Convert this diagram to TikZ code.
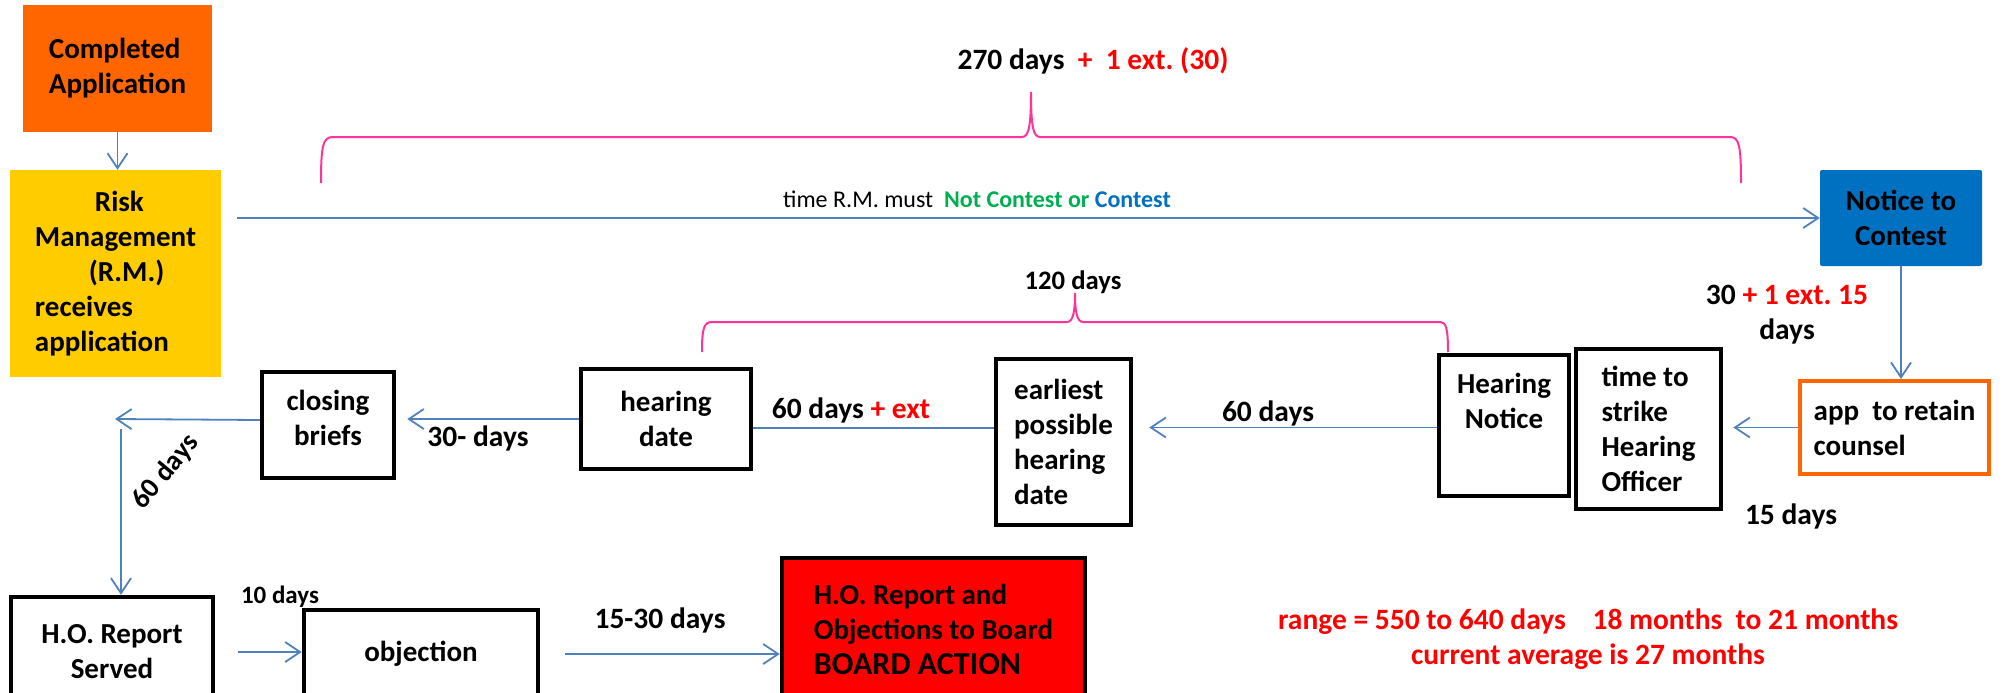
\documentclass[tikz,border=0pt]{standalone}
\usepackage{fontspec}
\setmainfont{Carlito}
\usetikzlibrary{arrows.meta}

\definecolor{apporange}{RGB}{255,102,0}
\definecolor{rmyellow}{RGB}{255,204,0}
\definecolor{noticeblue}{RGB}{0,112,192}
\definecolor{linkblue}{RGB}{79,129,189}
\definecolor{bracepink}{RGB}{255,51,153}
\definecolor{okgreen}{RGB}{0,176,80}

\newcommand{\boxfnt}{\fontsize{29}{35}\selectfont\bfseries}
\newcommand{\lblfnt}{\fontsize{29.5}{35}\selectfont\bfseries}
\newcommand{\smallfnt}{\fontsize{24}{29}\selectfont}

\tikzset{
  blkbox/.style={draw=black, line width=4.5pt, fill=white, inner sep=0pt, font=\boxfnt, align=center},
  fillbox/.style={inner sep=0pt, font=\boxfnt},
  conn/.style={draw=linkblue, line width=1.8pt},
  arr/.style={conn, -{Straight Barb[length=15pt, width=20pt]}},
  brace/.style={draw=bracepink, line width=2pt},
  days/.style={font=\lblfnt, inner sep=0pt},
}

\begin{document}
\frenchspacing
\begin{tikzpicture}[x=1pt, y=-1pt]
\useasboundingbox (0,0) rectangle (2003,693);

% boxes
\node[fillbox, fill=apporange, minimum width=189pt, minimum height=127pt, align=left] (compapp) at (117.5,68.5) {Completed\\Application};
\node[fillbox, fill=rmyellow, minimum width=211pt, minimum height=207pt, align=left] (riskmgmt) at (115.5,273.5) {\hspace*{60pt}Risk\\Management\\\hspace*{54pt}(R.M.)\\receives\\application};
\node[fillbox, fill=noticeblue, rounded corners=2pt, minimum width=162pt, minimum height=96pt, align=center] (notice) at (1901,218) {Notice to\\Contest};
\node[blkbox, draw=apporange, line width=4pt, minimum width=189pt, minimum height=93pt, align=left] (retain) at (1894.5,427.5) {app\ \ to retain\\counsel};
\node[blkbox, minimum width=145pt, minimum height=160pt, align=left] (strike) at (1648.5,429) {time to\\strike\\Hearing\\Officer};
\node[blkbox, minimum width=130pt, minimum height=141pt,
  label={[font=\boxfnt, align=center, anchor=north, yshift=-20pt, inner sep=0pt]north:{Hearing\\Notice}}] (hnotice) at (1504,425.5) {};
\node[blkbox, minimum width=135pt, minimum height=166pt, align=left] (earliest) at (1063.5,442) {earliest\\possible\\hearing\\date};
\node[blkbox, minimum width=170pt, minimum height=100pt] (hearing) at (666,419) {hearing\\date};
\node[blkbox, minimum width=132pt, minimum height=106pt, text depth=14pt] (closing) at (328,425) {closing\\briefs};
\node[blkbox, minimum width=202pt, minimum height=110pt] (hoserved) at (112,652) {H.O. Report\\Served};
\node[blkbox, minimum width=234pt, minimum height=88pt] (objection) at (421,654) {objection};
\node[blkbox, fill=red, minimum width=303pt, minimum height=142pt, align=left] (board) at (933.5,629) {H.O. Report and\\Objections to Board\\{\fontsize{32}{38}\selectfont BOARD ACTION}};

% brackets
\draw[brace] (321,183) .. controls (321,145) and (323,137) .. (333,137) -- (1022,137)
  .. controls (1029,137) and (1031,125) .. (1031,92) .. controls (1031,125) and (1033,137) .. (1040,137)
  -- (1730,137) .. controls (1739,137) and (1741,145) .. (1741,183);
\draw[brace] (702,352) .. controls (702,328) and (704,322) .. (712,322) -- (1067,322)
  .. controls (1073,322) and (1075,312) .. (1075,293) .. controls (1075,312) and (1077,322) .. (1083,322)
  -- (1440,322) .. controls (1446,322) and (1448,328) .. (1448,352);

% connectors
\coordinate (turn) at (115,419);
\coordinate (drop) at (121,429);
\draw[arr] (compapp.south) -- (compapp.south |- riskmgmt.north);
\draw[arr] ([xshift=16pt]notice.west -| riskmgmt.east) -- (notice.west);
\draw[arr] (notice.south) -- (notice.south |- retain.north);
\draw[arr] (retain.west) -- ([xshift=10pt]retain.west -| strike.east);
\draw[arr] ([yshift=-2pt]hnotice.west) -- ([xshift=16pt,yshift=-2pt]hnotice.west -| earliest.east);
\draw[conn] ([yshift=14pt]earliest.west) -- ([yshift=14pt]earliest.west -| hearing.east);
\draw[arr] (hearing.west) -- ([xshift=11pt]hearing.west -| closing.east);
\draw[arr] ([yshift=5pt]closing.west) -- (turn);
\draw[arr] (drop) -- (drop |- hoserved.north);
\draw[arr] ([xshift=23pt]hoserved.east) -- (hoserved.east -| objection.west);
\draw[arr] ([xshift=25pt]objection.east) -- (objection.east -| board.west);

% labels
\node[days] (toplbl) at (1093,61) {270 days\ \ \textcolor{red}{+\ \ 1 ext. (30)}};
\node[font=\smallfnt, inner sep=0pt] (mustlbl) at (977,199) {time R.M. must\ \ {\bfseries\color{okgreen}Not Contest or} {\bfseries\color{noticeblue}Contest}};
\node[days, font=\fontsize{26.7}{31}\selectfont\bfseries] (midlbl) at (1073,282) {120 days};
\node[days] (extlbl) at (851,410) {60 days \textcolor{red}{+ ext}};
\node[days] (sixtylbl) at (1268,413) {60 days};
\node[days] (thirtylbl) at (478,438) {30- days};
\node[days, align=center] (noticelbl) at (1787,315) {30 \textcolor{red}{+ 1 ext. 15}\\days};
\node[days] (fifteenlbl) at (1791,516) {15 days};
\node[days, font=\fontsize{28}{33}\selectfont\bfseries, rotate=50] (briefslbl) at (166,472) {60 days};
\node[days, font=\fontsize{25}{30}\selectfont\bfseries] (tenlbl) at (280,597) {10 days};
\node[days] (boardlbl) at (660,620) {15-30 days};
\node[days, align=center, text=red] (rangelbl) at (1588,639) {range = 550 to 640 days\ \ \ \ 18 months\ \ to 21 months\\current average is 27 months};
\end{tikzpicture}
\end{document}
